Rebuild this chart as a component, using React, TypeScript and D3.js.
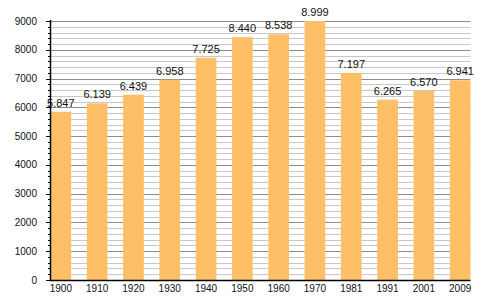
import React from "react";
import * as d3 from "d3";

const years = ["1900", "1910", "1920", "1930", "1940", "1950", "1960", "1970", "1981", "1991", "2001", "2009"];
const population = [5847, 6139, 6439, 6958, 7725, 8440, 8538, 8999, 7197, 6265, 6570, 6941];
const valueLabels = ["5.847", "6.139", "6.439", "6.958", "7.725", "8.440", "8.538", "8.999", "7.197", "6.265", "6.570", "6.941"];
const majorTicks = [0, 1000, 2000, 3000, 4000, 5000, 6000, 7000, 8000, 9000];

export default function App() {
  const left = 50, right = 470.5, top = 21, bottom = 280;
  const x = d3.scaleBand<string>().domain(years).range([left + 0.5, right]).paddingInner(0.43).paddingOuter(0).align(0);
  const y = d3.scaleLinear().domain([0, 9000]).range([bottom, top]);
  const minorTicks = d3.range(0, 9001, 200).filter((v) => v % 1000 !== 0);
  const font = "'Liberation Sans', Arial, sans-serif";
  return (
    <svg width={500} height={300} style={{ position: "absolute", left: 0, top: 0 }} fontFamily={font}>
      <rect width={500} height={300} fill="#fff" />
      {minorTicks.map((v) => (
        <g key={"m" + v}>
          <line x1={left} x2={right} y1={Math.round(y(v)) + 0.5} y2={Math.round(y(v)) + 0.5} stroke="#c8c8c8" strokeWidth={1} />
          <line x1={left - 2} x2={left} y1={Math.round(y(v)) + 0.5} y2={Math.round(y(v)) + 0.5} stroke="#000" strokeWidth={1} />
        </g>
      ))}
      {majorTicks.map((v) => (
        <g key={"M" + v}>
          {v > 0 && <line x1={left} x2={right} y1={Math.round(y(v)) + 0.5} y2={Math.round(y(v)) + 0.5} stroke="#8c8c8c" strokeWidth={1} />}
          <line x1={left - 4} x2={left} y1={Math.round(y(v)) + 0.5} y2={Math.round(y(v)) + 0.5} stroke="#000" strokeWidth={1} />
          <text x={37} y={y(v)} dy="0.35em" textAnchor="end" fontSize={10} fill="#111">{v}</text>
        </g>
      ))}
      {years.map((yr, i) => (
        <g key={yr}>
          <rect x={x(yr)} y={y(population[i])} width={x.bandwidth()} height={bottom - y(population[i])} fill="#ffbf66" />
          <text x={(x(yr) as number) + x.bandwidth() / 2} y={y(population[i]) - 5} textAnchor="middle" fontSize={11} fill="#111">{valueLabels[i]}</text>
          <text x={(x(yr) as number) + x.bandwidth() / 2} y={292} textAnchor="middle" fontSize={10} fill="#111">{yr}</text>
        </g>
      ))}
      <line x1={left + 0.5} x2={left + 0.5} y1={top - 1} y2={bottom + 1} stroke="#000" strokeWidth={1.5} />
      <line x1={left} x2={right} y1={bottom + 0.5} y2={bottom + 0.5} stroke="#000" strokeWidth={1.5} />
    </svg>
  );
}
